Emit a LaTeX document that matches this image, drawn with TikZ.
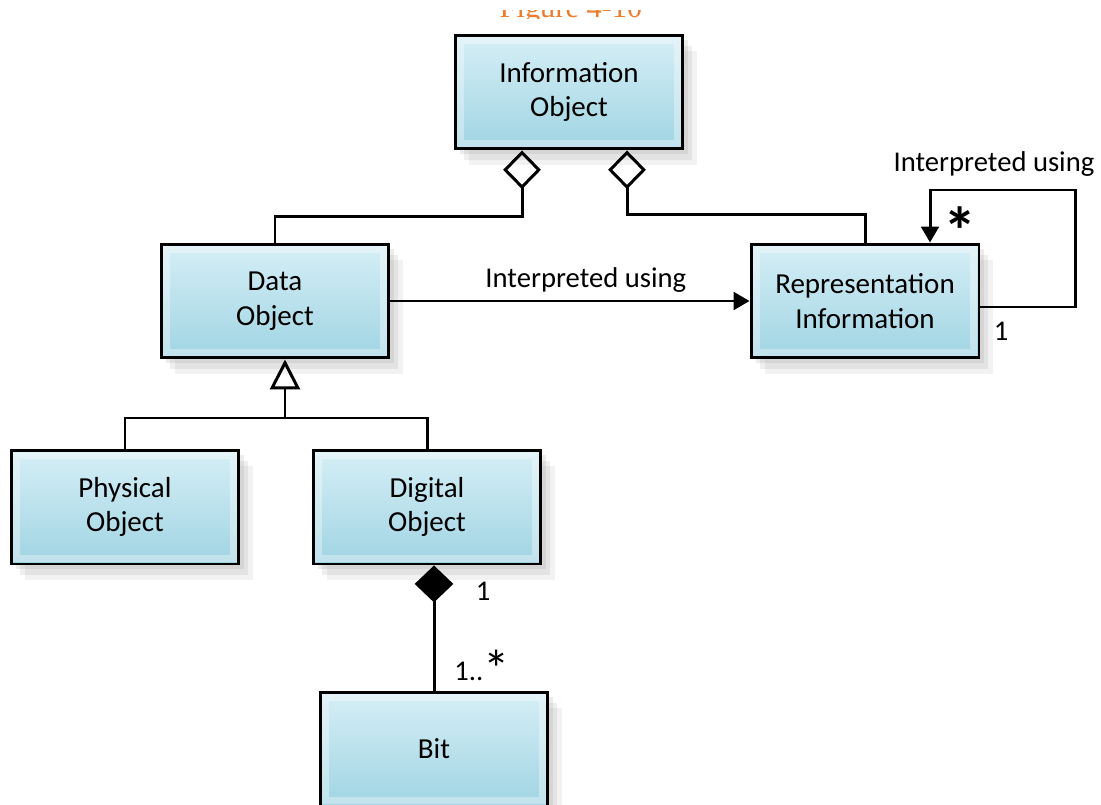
\documentclass[tikz,border=0pt]{standalone}
\usepackage{fontspec}
\setmainfont{Carlito}
\newfontfamily\titlefont{Liberation Serif}
\usetikzlibrary{arrows.meta,calc,positioning,shadows}
\tikzset{>=latex}
\definecolor{boxtop}{RGB}{214,239,246}
\definecolor{boxbot}{RGB}{160,212,227}
\definecolor{figorange}{RGB}{235,125,45}
\tikzset{
  umlbox/.style={draw=black, line width=1.7pt, top color=boxtop, bottom color=boxbot,
    minimum width=4.56cm, minimum height=2.28cm, align=center,
    font=\fontsize{16.5}{19.6}\selectfont,
    path picture={\draw[white, opacity=0.35, line width=4pt]
      ([shift={(3pt,-3pt)}]path picture bounding box.north west) rectangle
      ([shift={(-3pt,3pt)}]path picture bounding box.south east);},
    drop shadow={shadow xshift=3pt, shadow yshift=-3pt, opacity=0.15},
    drop shadow={shadow xshift=5pt, shadow yshift=-6pt, opacity=0.13},
    drop shadow={shadow xshift=8pt, shadow yshift=-9pt, opacity=0.1}},
  conn/.style={line width=1.7pt},
  lbl/.style={font=\fontsize{16.3}{20}\selectfont, inner sep=0pt},
}

\begin{document}
\begin{tikzpicture}[x=0.02cm, y=-0.02cm]
  \useasboundingbox (0,0) rectangle (1101,804);
  % caption, cut off at the top
  \begin{scope}
    \clip (0,11) rectangle (1101,18.5);
    \node[figorange, anchor=base, inner sep=0pt, font=\titlefont\fontsize{17.3}{20}\selectfont] (title) at (571,18) {Figure 4-10};
  \end{scope}
  % classes
  \node[umlbox] (info) at (569,92) {Information\\Object};
  \node[umlbox] (data) at (275,301) {Data\\Object};
  \node[umlbox] (rep) at (865,301) {Representation\\Information};
  \node[umlbox] (phys) at (125,507) {Physical\\Object};
  \node[umlbox] (dig) at (427,507) {Digital\\Object};
  \node[umlbox] (bit) at (434,749) {Bit};
  %
  % aggregation
  \draw[conn, {Diamond[open, length=22pt, width=21.5pt]}-] ($(info.south)+(-47,0)$) -- ++(0,66) -| (data.north);
  \draw[conn, {Diamond[open, length=22pt, width=21.5pt]}-] ($(info.south)+(58,0)$) -- ++(0,64) -| (rep.north);
  % association
  \draw[conn, -{Triangle[length=9pt, width=10pt]}] (data.east) -- (rep.west)
    node[lbl, midway, above=4pt, xshift=9pt] (assoc) {Interpreted using};
  \coordinate (loopR) at (1075,190);
  \draw[conn, -{Triangle[length=9pt, width=10pt]}] ($(rep.east)+(0,6)$) -| (loopR) -| ($(rep.north)+(65,0)$);
  \node[lbl] (loop) at (994,164) {Interpreted using};
  \node[lbl, font=\bfseries\fontsize{38}{38}\selectfont] (many) at (960,231) {*};
  \node[lbl] (one) at (1001,331) {1};
  % generalization
  \coordinate (gen) at (285,418);
  \draw[conn, -{Triangle[open, length=17pt, width=17pt]}] (gen) -- (gen |- data.south);
  \draw[conn] (phys.north) |- (gen) -| (dig.north);
  % composition
  \draw[conn, {Diamond[length=21pt, width=22pt]}-] (bit.north |- dig.south) -- (bit.north);
  \node[lbl] (whole) at (483,591) {1};
  \node[lbl, anchor=base west] (part) at (454,680) {1..\raisebox{-4pt}{\fontsize{30}{30}\selectfont *}};
\end{tikzpicture}
\end{document}
